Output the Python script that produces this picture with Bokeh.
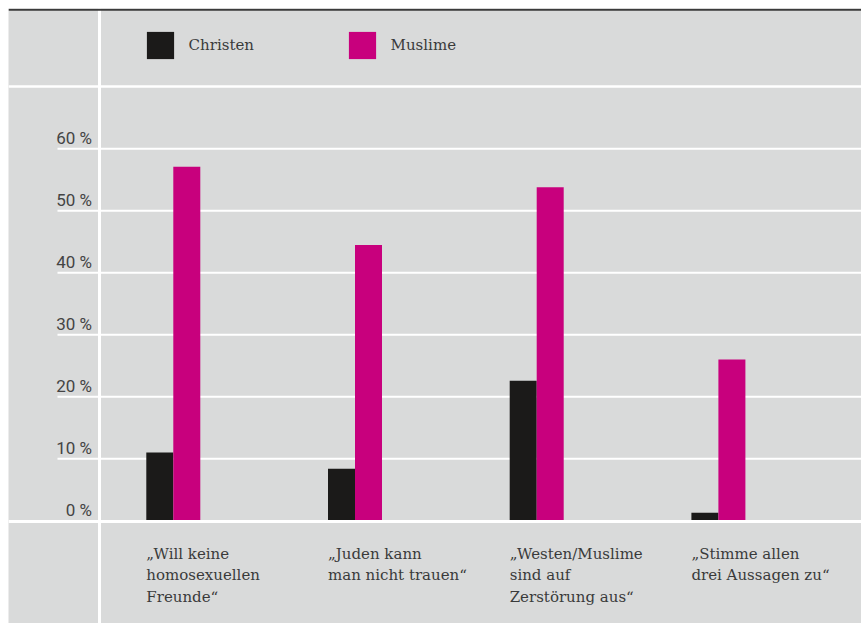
from bokeh.plotting import figure
from bokeh.models import Span, Legend, LegendItem
from bokeh.embed import file_html
from bokeh.resources import INLINE
from bokeh.core.properties import value

# ---- data ----
categories = [
    "\u201eWill keine\nhomosexuellen\nFreunde\u201c",
    "\u201eJuden kann\nman nicht trauen\u201c",
    "\u201eWesten/Muslime\nsind auf\nZerst\u00f6rung aus\u201c",
    "\u201eStimme allen\ndrei Aussagen zu\u201c",
]
series_names = ["Christen", "Muslime"]
christen = [11.0, 8.4, 22.6, 1.3]
muslime = [57.1, 44.5, 53.8, 26.0]
tick_values = [0, 10, 20, 30, 40, 50, 60]
tick_labels = ["0 %", "10 %", "20 %", "30 %", "40 %", "50 %", "60 %"]

# ---- layout / style ----
BG = "#d9dada"
C_CHR = "#1b1a19"
C_MUS = "#c8007d"
TXT = "#3a3a3a"
W, H = 861, 623
M = 8                  # white margin drawn inside the canvas (top / left)
GROUP0_PX = 172.8      # x of boundary between bars of first group
GROUP_PX = 181.7       # px between groups
ZERO_PX = 520.3        # y of 0 %
PX_PER_PCT = 6.2


def xv(px):
    return (px - GROUP0_PX) / GROUP_PX


def yv(py):
    return (ZERO_PX - py) / PX_PER_PCT


p = figure(width=W, height=H,
           x_range=(xv(M), xv(W)), y_range=(yv(H), yv(M)),
           output_backend="svg", toolbar_location=None,
           x_axis_location=None, y_axis_location=None,
           min_border=0, min_border_left=M, min_border_top=M,
           background_fill_color=BG, border_fill_color="white",
           outline_line_color=None)
p.grid.visible = False

# grid lines (10..60 %)
p.segment(x0=xv(57), x1=xv(W), y0=tick_values[1:], y1=tick_values[1:],
          line_color="white", line_width=2)

bw = 27 / GROUP_PX
idx = list(range(len(categories)))
r1 = p.vbar(x=[i - bw / 2 for i in idx], top=christen, bottom=0, width=bw,
            fill_color=C_CHR, line_color=None)
r2 = p.vbar(x=[i + bw / 2 for i in idx], top=muslime, bottom=0, width=bw,
            fill_color=C_MUS, line_color=None)

# tick labels (centred 11px above their grid line)
p.text(x=xv(91.5), y=[v + 11 / PX_PER_PCT for v in tick_values], text=tick_labels,
       text_align="right", text_baseline="middle",
       text_font=value("Roboto"), text_font_size="17px", text_color="#444444")

# category labels
p.text(x=[i - bw for i in idx], y=yv(544.5), text=categories, text_align="left",
       text_baseline="top", text_font=value("DejaVu Serif"),
       text_font_size="15px", text_line_height=1.19, text_color=TXT)

# structural lines
p.add_layout(Span(location=0 - 0.7 / PX_PER_PCT, dimension="width",
                  line_color="white", line_width=3))
p.add_layout(Span(location=yv(86), dimension="width",
                  line_color="white", line_width=2.5))
p.add_layout(Span(location=xv(99), dimension="height",
                  line_color="white", line_width=3))
p.add_layout(Span(location=yv(9.2), dimension="width",
                  line_color="#3a3a3a", line_width=2))

legend = Legend(items=[LegendItem(label=series_names[0], renderers=[r1]),
                       LegendItem(label=series_names[1], renderers=[r2])],
                location=(142.6 - M, H - 62.4), orientation="horizontal",
                glyph_width=34, glyph_height=34, label_standoff=12,
                label_width=148, spacing=8, padding=0, margin=0,
                border_line_color=None, background_fill_alpha=0,
                label_text_font="DejaVu Serif", label_text_font_size="15px",
                label_text_color=TXT)
p.add_layout(legend)

open("out.html", "w").write(file_html(p, INLINE))
